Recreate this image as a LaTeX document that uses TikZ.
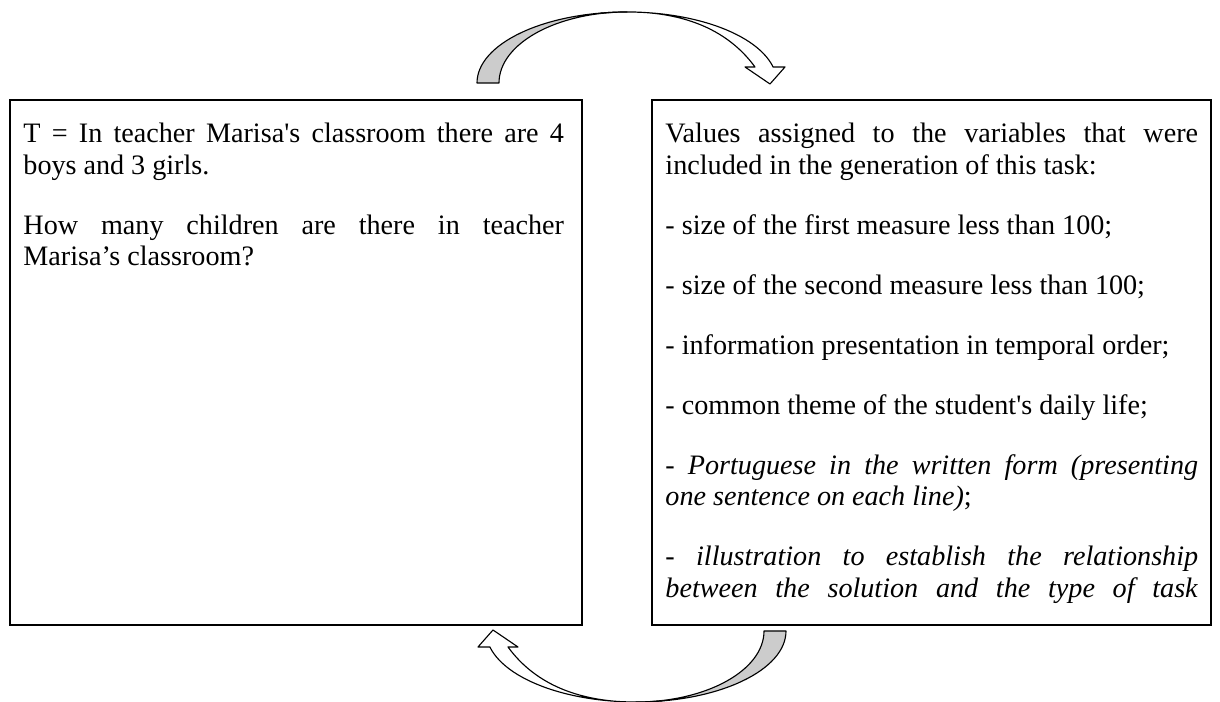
\documentclass[tikz,border=0pt]{standalone}
\usepackage{fontspec}
\setmainfont{Liberation Serif}

% curved block arrow, gray back band + white front band with head
\newcommand{\turnarrow}[1]{%
\begin{scope}[#1]
\filldraw [band, fill=gray!40] (477,83) arc[start angle=180, end angle=270, x radius=150, y radius=71]
  arc[start angle=270, end angle=180, x radius=128, y radius=71] -- cycle;
\filldraw [band, fill=white] (599.9,13.2) arc[start angle=259.6, end angle=347, x radius=150, y radius=71]
  -- (785,67) -- (770,84) -- (745,67) -- (755,67) .. controls (728,30) and (680,6) .. (599.9,13.2) -- cycle;
\end{scope}}

\begin{document}
\begin{tikzpicture}[x=0.444pt, y=-0.444pt,
  textblock/.style={anchor=north west, inner sep=0pt, align=justify,
    font={\fontsize{12.5pt}{14pt}\selectfont\setlength{\parskip}{12.6pt}%
      \hyphenpenalty=10000 \exhyphenpenalty=10000 \spaceskip=3.1pt plus 8pt minus 0pt}},
  band/.style={draw=black, line width=0.5pt, line join=round}]
\useasboundingbox (0,0) rectangle (1220,702);

% the two boxes
\draw [line width=0.8pt] (10,100) rectangle (582,625);
\draw [line width=0.8pt] (652,100) rectangle (1211,625);

\node[textblock, text width=240pt] (task) at (23,123) {T = In teacher Marisa\textquotesingle s classroom there are 4 boys and 3 girls.\par
How many children are there in teacher Marisa’s classroom?};

\node[textblock, text width=236.5pt] (values) at (665,123) {Values assigned to the variables that were included in the generation of this task:\par
- size of the first measure less than 100;\par
- size of the second measure less than 100;\par
- information presentation in temporal order;\par
- common theme of the student\textquotesingle s daily life;\par
\textit{- Portuguese in the written form (presenting one sentence on each line)};\par
\textit{- illustration to establish the relationship between the solution and the type of task}\linebreak};

% arrows going round
\turnarrow{}
\turnarrow{rotate around={180:(631.5,357)}}
\end{tikzpicture}
\end{document}
